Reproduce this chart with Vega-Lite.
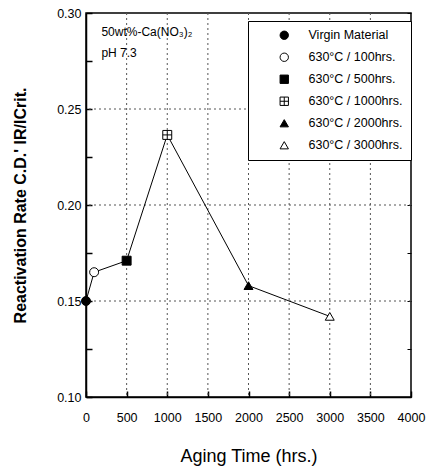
{
  "$schema": "https://vega.github.io/schema/vega-lite/v6.json",
  "width": 325,
  "height": 384,
  "padding": {"left": 12, "top": 7, "right": 5, "bottom": 5},
  "background": "white",
  "config": {
    "font": "Liberation Sans",
    "view": {"stroke": "black", "strokeWidth": 1.5}
  },
  "resolve": {"axis": {"y": "independent"}},
  "datasets": {
    "pts": [
      {"hours": 0, "rate": 0.150, "series": "Virgin Material"},
      {"hours": 100, "rate": 0.165, "series": "630°C / 100hrs."},
      {"hours": 500, "rate": 0.171, "series": "630°C / 500hrs."},
      {"hours": 1000, "rate": 0.2365, "series": "630°C / 1000hrs."},
      {"hours": 2000, "rate": 0.158, "series": "630°C / 2000hrs."},
      {"hours": 3000, "rate": 0.142, "series": "630°C / 3000hrs."}
    ],
    "notes": [
      {"hours": 190, "rate": 0.2900, "text": "50wt%-Ca(NO₃)₂"},
      {"hours": 190, "rate": 0.2790, "text": "pH 7.3"}
    ],
    "xgrid": [{"hours": 500}, {"hours": 1000}, {"hours": 1500}, {"hours": 2000}, {"hours": 2500}, {"hours": 3000}, {"hours": 3500}],
    "ygrid": [{"rate": 0.15}, {"rate": 0.20}, {"rate": 0.25}]
  },
  "layer": [
    {
      "data": {"name": "xgrid"},
      "mark": {"type": "rule", "color": "#555", "strokeWidth": 1, "strokeDash": [2, 3]},
      "encoding": {
        "x": {"field": "hours", "type": "quantitative"}
      }
    },
    {
      "data": {"name": "ygrid"},
      "mark": {"type": "rule", "color": "#555", "strokeWidth": 1, "strokeDash": [2, 3]},
      "encoding": {
        "y": {
          "field": "rate", "type": "quantitative",
          "scale": {"domain": [0.10, 0.30], "nice": false, "zero": false},
          "axis": {
            "orient": "right", "title": null, "labels": false, "domain": false, "grid": false,
            "values": [0.1, 0.125, 0.15, 0.175, 0.2, 0.225, 0.25, 0.275, 0.3],
            "ticks": true, "tickColor": "black", "tickWidth": 1, "tickSize": -4
          }
        }
      }
    },
    {
      "data": {"name": "pts"},
      "mark": {"type": "line", "color": "black", "strokeWidth": 1},
      "encoding": {
        "x": {
          "field": "hours", "type": "quantitative",
          "scale": {"domain": [0, 4000], "nice": false},
          "axis": {
            "title": "Aging Time (hrs.)",
            "titleFontSize": 18, "titleFontWeight": "normal", "titlePadding": 24,
            "values": [0,250,500,750,1000,1250,1500,1750,2000,2250,2500,2750,3000,3250,3500,3750,4000],
            "labelExpr": "datum.value % 500 === 0 ? datum.label : ''",
            "labelOverlap": false, "labelFlush": false,
            "format": "d",
            "labelFontSize": 12.5, "labelColor": "black", "labelPadding": 20,
            "domainColor": "black", "domainWidth": 1.5,
            "ticks": true, "tickColor": "black", "tickWidth": 1.5,
            "tickSize": -6,
            "grid": false
          }
        },
        "y": {
          "field": "rate", "type": "quantitative",
          "scale": {"domain": [0.10, 0.30], "nice": false, "zero": false},
          "axis": {
            "title": "Reactivation Rate  C.D.'  IR/ICrit.",
            "titleFontSize": 16, "titleFontWeight": "bold", "titlePadding": 28,
            "values": [0.1, 0.125, 0.15, 0.175, 0.2, 0.225, 0.25, 0.275, 0.3],
            "labelExpr": "round(datum.value * 1000) % 50 === 0 ? format(datum.value, '.2f') : ''",
            "labelOverlap": false, "labelFlush": false,
            "labelFontSize": 12.5, "labelColor": "black", "labelPadding": 11,
            "domainColor": "black", "domainWidth": 1.5,
            "ticks": true, "tickColor": "black", "tickWidth": 1.5,
            "tickSize": -6,
            "grid": false
          }
        },
        "order": {"field": "hours", "type": "quantitative"}
      }
    },
    {
      "data": {"name": "pts"},
      "mark": {"type": "point", "filled": true, "stroke": "black", "strokeWidth": 1, "size": 80, "opacity": 1},
      "encoding": {
        "x": {"field": "hours", "type": "quantitative"},
        "y": {"field": "rate", "type": "quantitative", "axis": null},
        "shape": {
          "field": "series", "type": "nominal", "title": null,
          "scale": {
            "domain": ["Virgin Material", "630°C / 100hrs.", "630°C / 500hrs.", "630°C / 1000hrs.", "630°C / 2000hrs.", "630°C / 3000hrs."],
            "range": ["circle", "circle", "square", "M-1,-1H1V1H-1ZM0,-1V1M-1,0H1", "triangle-up", "triangle-up"]
          }
        },
        "fill": {
          "field": "series", "type": "nominal", "title": null,
          "scale": {
            "domain": ["Virgin Material", "630°C / 100hrs.", "630°C / 500hrs.", "630°C / 1000hrs.", "630°C / 2000hrs.", "630°C / 3000hrs."],
            "range": ["black", "white", "black", "white", "black", "white"]
          },
          "legend": {
            "orient": "none", "legendX": 162, "legendY": 8,
            "padding": 8, "strokeColor": "black", "fillColor": "white",
            "symbolOffset": 22, "labelOffset": 18, "rowPadding": 9,
            "symbolSize": 70, "symbolStrokeColor": "black", "symbolStrokeWidth": 1,
            "labelFontSize": 12.5, "labelColor": "black", "labelLimit": 200
          }
        }
      }
    },
    {
      "data": {"name": "notes"},
      "mark": {"type": "text", "align": "left", "baseline": "middle", "fontSize": 12, "color": "black"},
      "encoding": {
        "x": {"field": "hours", "type": "quantitative"},
        "y": {"field": "rate", "type": "quantitative", "axis": null},
        "text": {"field": "text"}
      }
    }
  ]
}
